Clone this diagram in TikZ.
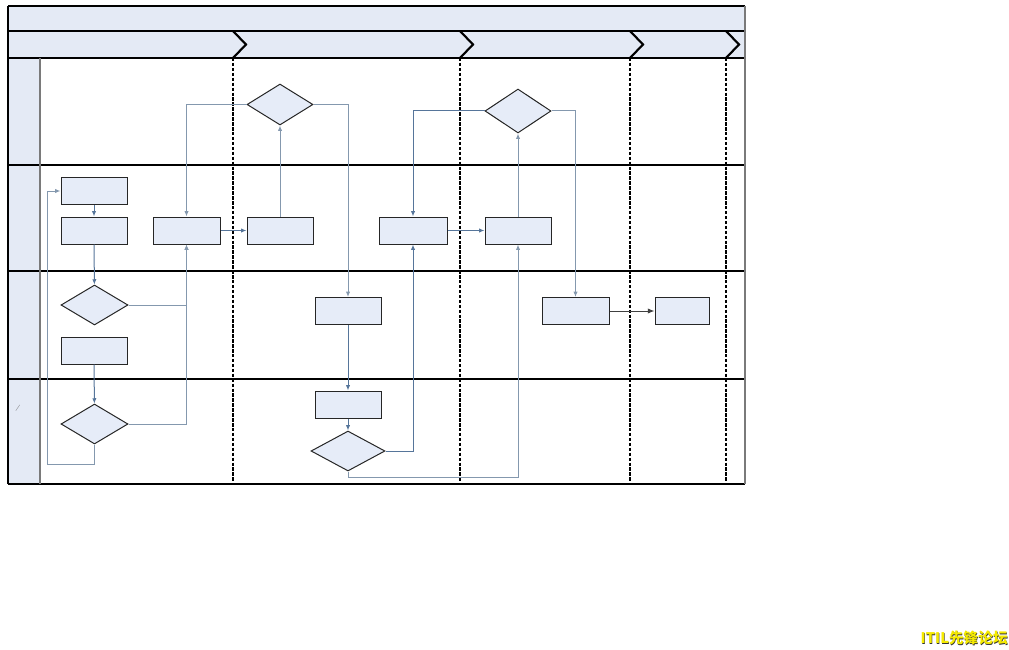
\documentclass[tikz,border=0pt]{standalone}
\usepackage{fontspec}
\newfontfamily\cjk{Noto Sans CJK SC}
\usetikzlibrary{arrows.meta,shapes.geometric}
\definecolor{paneblue}{HTML}{E4EAF5}
\definecolor{boxfill}{HTML}{E6ECF8}
\definecolor{flowdark}{HTML}{56759A}
\definecolor{flowlight}{HTML}{8498AE}
\definecolor{laneline}{HTML}{7A7A7A}
\definecolor{wmyellow}{HTML}{F5EA00}
\tikzset{
  box/.style={draw=black!85, fill=boxfill, line width=0.75pt, rectangle, inner sep=0pt,
    minimum width=49.5pt, minimum height=20.25pt},
  dia/.style={draw=black!85, fill=boxfill, line width=0.75pt, diamond, inner sep=0pt,
    minimum width=49.5pt, minimum height=30.75pt},
  flow/.style={draw=flowdark, line width=0.75pt, -{Latex[length=4pt,width=3.2pt]}},
  flowl/.style={draw=flowlight, line width=0.75pt, -{Latex[length=4pt,width=3.2pt]}},
  plainl/.style={draw=flowlight, line width=0.75pt},
  phaseline/.style={line width=1.7pt, dash pattern=on 2.6pt off 1.1pt},
  chev/.style={line width=1.6pt, line join=miter},
  wmfont/.style={font=\cjk\bfseries\fontsize{11pt}{13pt}\selectfont, anchor=east, inner sep=0pt},
}
\begin{document}
\begin{tikzpicture}[x=0.75pt,y=-0.75pt]
\useasboundingbox (0,0) rectangle (1009,649);
% header bars
\fill[paneblue] (8,6) rectangle (745,58);
\fill[paneblue] (8,58) rectangle (40,484);
% lane separators
\foreach \yy in {165,271,379}{\draw[line width=0.85pt] (8,\yy) -- (745,\yy);}
\draw[line width=0.85pt] (8,31) -- (745,31);
\draw[line width=0.85pt] (8,58) -- (745,58);
\draw[line width=0.85pt] (8,484) -- (745,484);
\draw[line width=0.85pt] (8,6) -- (745,6);
\draw[line width=0.85pt] (8,6) -- (8,484);
\draw[laneline, line width=0.8pt] (745,6) -- (745,484);
\draw[laneline, line width=0.9pt] (40,58) -- (40,484);
% chevrons and phase separators
\foreach \xx in {233,460,630,726}{
  \draw[chev] (\xx,31) -- (\xx+13,44.5) -- (\xx,58);
  \draw[phaseline] (\xx,58) -- (\xx,482);
}
% nodes
\node[dia] (d1) at (280,104.5) {};
\node[dia, minimum height=33pt] (d2) at (518,111) {};
\node[box] (b1) at (94,191) {};
\node[box] (b2) at (94,230.5) {};
\node[box, minimum width=50.25pt] (b3) at (186.5,230.5) {};
\node[box] (b4) at (280,230.5) {};
\node[box, minimum width=51pt] (b5) at (413,230.5) {};
\node[box] (b6) at (518,230.5) {};
\node[dia, minimum width=50.25pt, minimum height=30pt] (d3) at (94.5,305) {};
\node[box] (b7) at (94,350.5) {};
\node[box] (b8) at (348,311) {};
\node[box, minimum width=50.25pt] (b9) at (575.5,311) {};
\node[box, minimum width=40.5pt] (b10) at (682,311) {};
\node[dia, minimum width=50.25pt, minimum height=30pt] (d4) at (94.5,424) {};
\node[box] (b11) at (348,404.5) {};
\node[dia, minimum width=55.5pt, minimum height=30pt] (d5) at (348,451) {};
\node[text=black!60, font=\tiny, rotate=-10] (mark) at (18,408) {/};
% free corners
\coordinate (lp) at (47,464);
\coordinate (dp) at (348,477);
% connectors
\draw[flow] (b1) -- (b2);
\draw[flow] (b2) -- (d3);
\draw[flow] (b7) -- (d4);
\draw[plainl] (d4.south) |- (lp);
\draw[flowl] (lp) |- (b1.west);
\draw[flowl] (d3.east) -| (b3.south);
\draw[flowl] (d4.east) -| (b3.south);
\draw[flowl] (d1.west) -| (b3.north);
\draw[flow] (b3) -- (b4);
\draw[flowl] (b4) -- (d1);
\draw[flowl] (d1.east) -| (b8.north);
\draw[flow] (b8) -- (b11);
\draw[flow] (b11) -- (d5);
\draw[flow] (d5.east) -| (b5.south);
\draw[plainl] (d5.south) -- (dp);
\draw[flowl] (dp) -| (b6.south);
\draw[flow] (d2.west) -| (b5.north);
\draw[flow] (b5) -- (b6);
\draw[flowl] (b6) -- (d2);
\draw[flowl] (d2.east) -| (b9.north);
\draw[line width=0.75pt, draw=black!75, -{Latex[length=5pt,width=4pt]}] (b9) -- (b10);
% watermark
\node[wmfont, text=black!80] (wms) at (1008.5,638.5) {ITIL先锋论坛};
\node[wmfont, text=wmyellow] (wm) at (1008,638) {ITIL先锋论坛};
\end{tikzpicture}
\end{document}
